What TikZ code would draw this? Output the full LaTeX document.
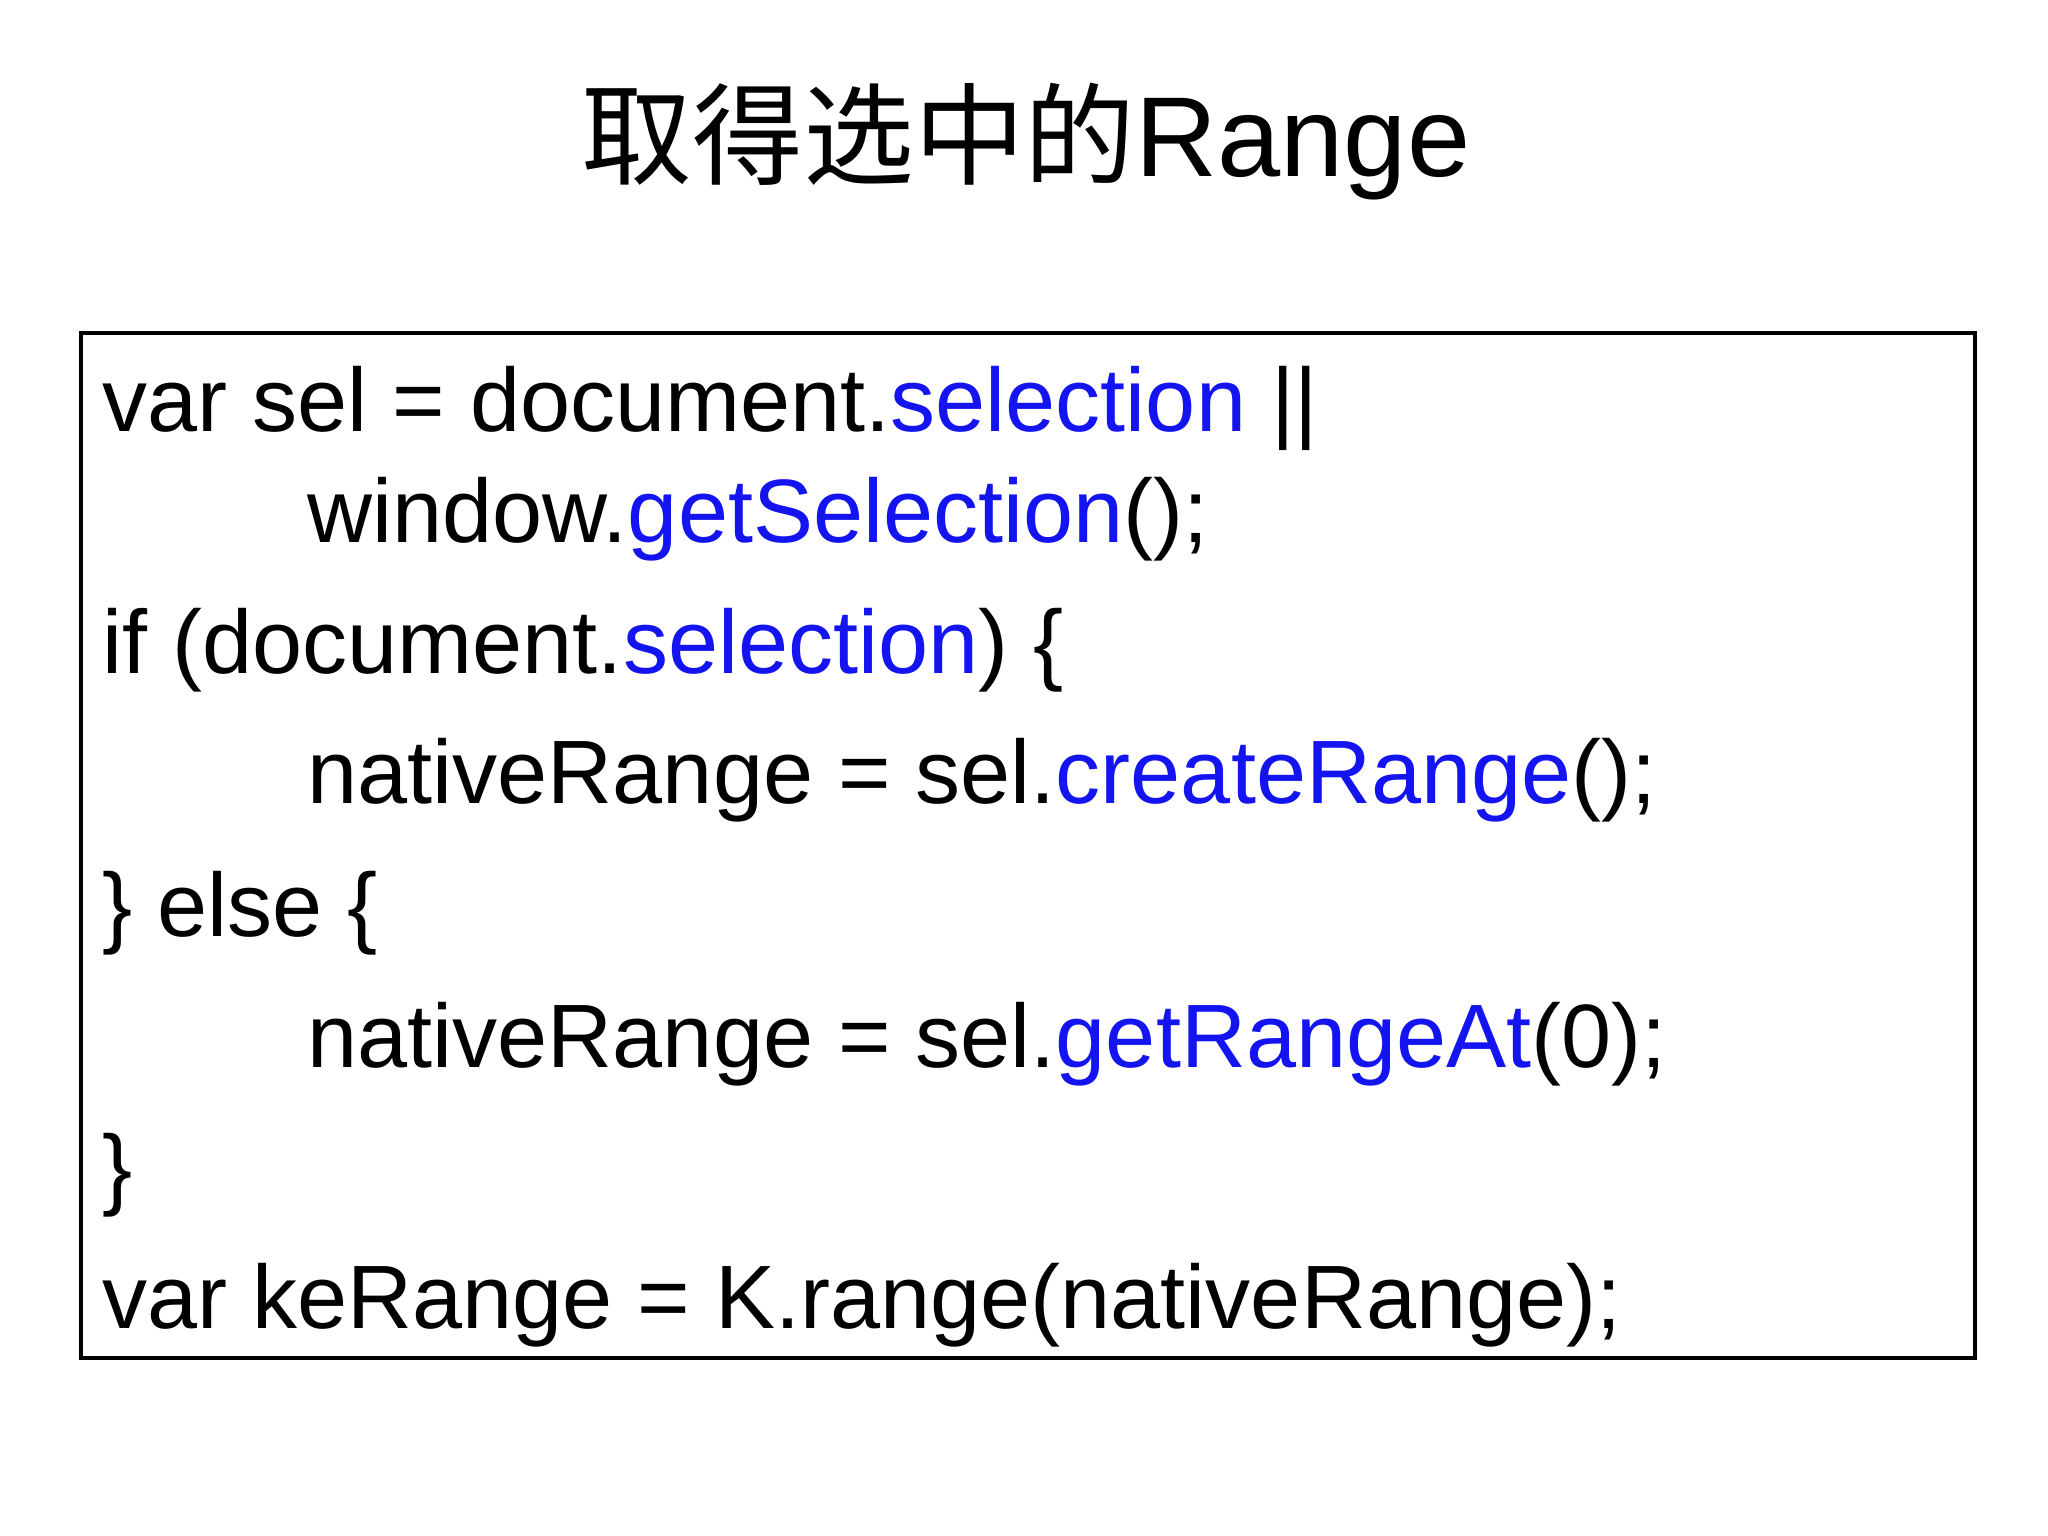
\documentclass[tikz,border=0pt]{standalone}
\usepackage{fontspec}
\setmainfont{Liberation Sans}
\newfontfamily\cjk{Noto Sans CJK SC}
\definecolor{kw}{RGB}{20,20,240}
\begin{document}
\begin{tikzpicture}[x=0.01cm,y=-0.01cm,
  code/.style={anchor=base west,inner sep=0pt,font=\fontsize{25.6}{28}\selectfont}]
\useasboundingbox (0,0) rectangle (2048,1536);
\node[anchor=base,inner sep=0pt,font=\fontsize{32.3}{36}\selectfont] (title) at (1026,176) {{\cjk\fontsize{31.5}{36}\selectfont 取得选中的}Range};
\draw[line width=0.9pt] (81,333) rectangle (1975,1358);
\node[code] (l1) at (102,431) {var sel = document.\textcolor{kw}{selection} ||};
\node[code] (l2) at (307,542) {window.\textcolor{kw}{getSelection}();};
\node[code] (l3) at (102,673) {if (document.\textcolor{kw}{selection}) \{};
\node[code] (l4) at (307,803) {nativeRange = sel.\textcolor{kw}{createRange}();};
\node[code] (l5) at (102,936) {\} else \{};
\node[code] (l6) at (307,1067) {nativeRange = sel.\textcolor{kw}{getRangeAt}(0);};
\node[code] (l7) at (102,1198) {\}};
\node[code] (l8) at (102,1328) {var keRange = K.range(nativeRange);};
\end{tikzpicture}
\end{document}
